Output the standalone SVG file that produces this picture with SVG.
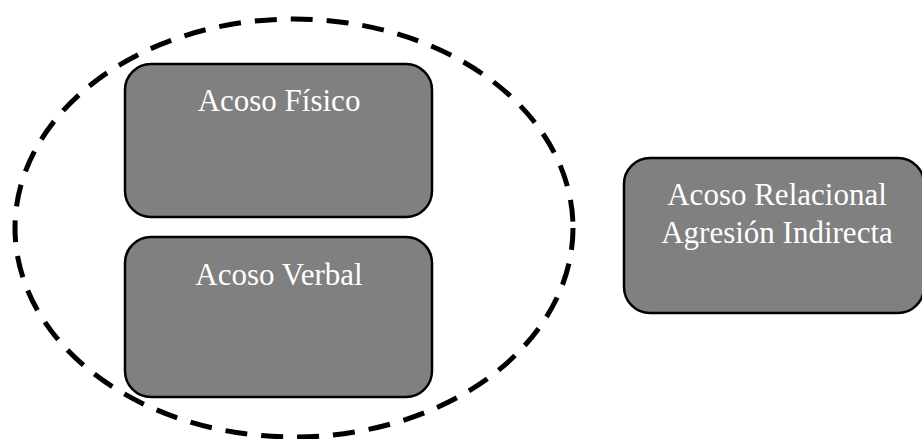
<svg xmlns="http://www.w3.org/2000/svg" width="922" height="439" viewBox="0 0 922 439">
<style>
.box{fill:#808080;stroke:#000;stroke-width:2.5}
.lbl{fill:#fff;font-family:"Liberation Serif","Times New Roman",serif;font-size:31px;text-anchor:middle}
.grp{fill:none;stroke:#000;stroke-width:5;stroke-dasharray:22 14}
</style>
<rect width="922" height="439" fill="#fff"/>
<g id="connectors"></g>
<g id="grupo"><ellipse class="grp" cx="294" cy="228" rx="279" ry="209"/></g>
<g id="fisico"><rect class="box" x="125" y="64" width="307" height="153" rx="26"/><text class="lbl" x="279" y="111">Acoso Físico</text></g>
<g id="verbal"><rect class="box" x="125" y="237" width="307" height="160" rx="26"/><text class="lbl" x="279" y="285">Acoso Verbal</text></g>
<g id="relacional"><rect class="box" x="624" y="158" width="300" height="155" rx="26"/><text class="lbl" x="777" y="205">Acoso Relacional</text><text class="lbl" x="777" y="243">Agresión Indirecta</text></g>
</svg>
